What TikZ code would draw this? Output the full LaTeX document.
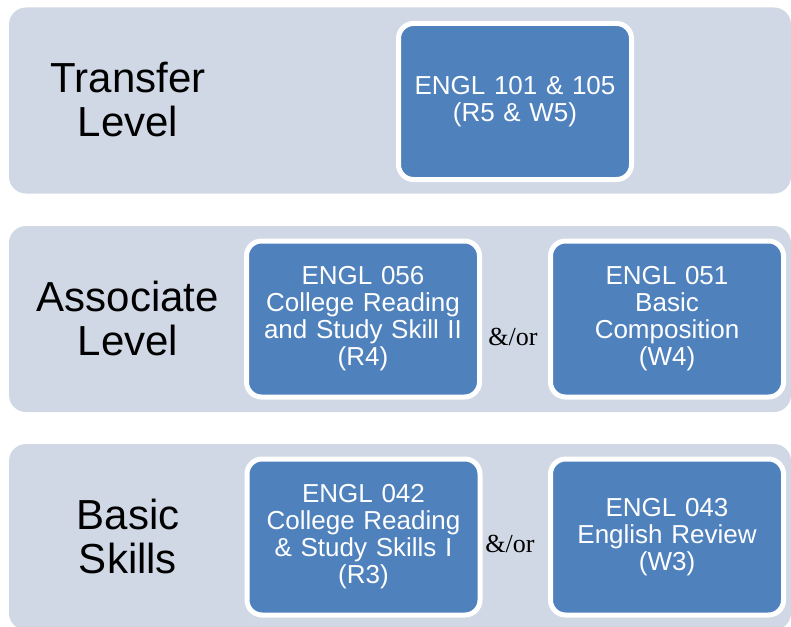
\documentclass[tikz,border=0pt]{standalone}
\usepackage{fontspec}
\setmainfont{Liberation Sans}
\newfontfamily\andorfont{Liberation Serif}
\usetikzlibrary{positioning}
\definecolor{bandgray}{HTML}{D0D7E5}
\definecolor{courseblue}{HTML}{4F81BD}

\begin{document}
\begin{tikzpicture}[x=1pt,y=-1pt,
    band/.style={fill=bandgray,rounded corners=17pt,minimum width=782pt,minimum height=186pt,inner sep=0pt},
    level/.style={font=\fontsize{42}{44}\selectfont,align=center,text=black},
    course/.style={fill=courseblue,draw=white,line width=5pt,rounded corners=15pt,
        minimum width=233pt,minimum height=156pt,text width=225pt,align=center,inner sep=0pt,
        text=white,font=\fontsize{26}{27}\selectfont},
    andor/.style={font=\andorfont\fontsize{26}{28}\selectfont}]
    \useasboundingbox (0,0) rectangle (791,626);
    \node[band] (transfer) at (400,100.5) {};
    \node[band] (associate) at (400,319) {};
    \node[band] (basic) at (400,537) {};

    \node[level] (tlabel) at (128,100) {Transfer\\Level};
    \node[level] (alabel) at (128,318) {Associate\\Level};
    \node[level] (blabel) at (128,536) {Basic\\Skills};

    \node[course] (e101) at (515,101.5) {ENGL 101 \& 105\\(R5 \& W5)};
    \node[course] (e056) at (363,319) {ENGL 056\\College Reading\\and Study Skill II\\(R4)};
    \node[course] (e051) at (667,319) {ENGL 051\\Basic\\Composition\\(W4)};
    \node[course] (e042) at (363.5,537) {ENGL 042\\College Reading\\\& Study Skills I\\(R3)};
    \node[course] (e043) at (667,537) {ENGL 043\\English Review\\(W3)};

    \node[andor] (or4) at (513,337) {\&/or};
    \node[andor] (or3) at (510,544) {\&/or};
\end{tikzpicture}
\end{document}
